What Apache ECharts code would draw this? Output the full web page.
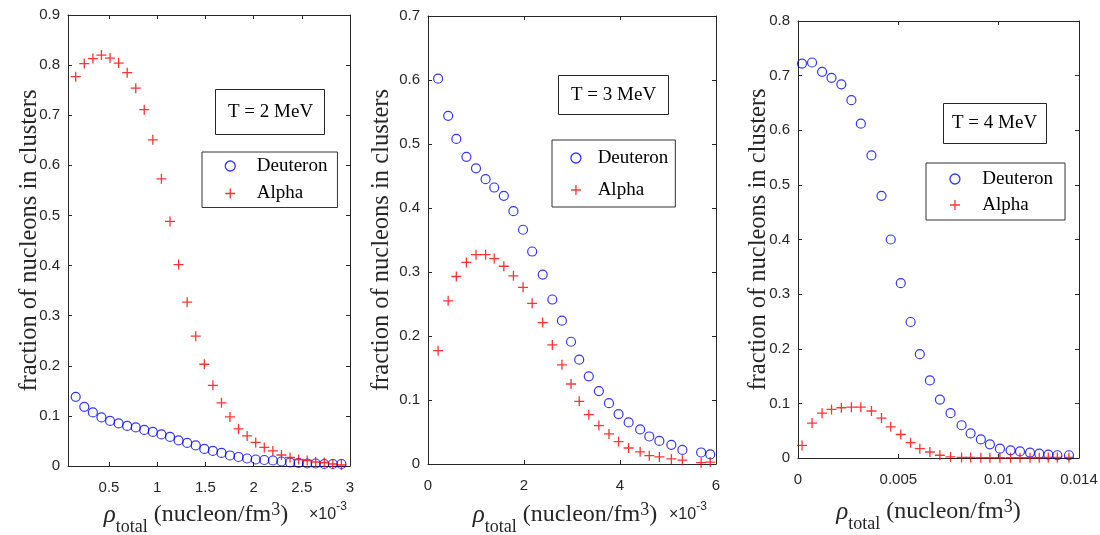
<!DOCTYPE html>
<html>
<head>
<meta charset="utf-8">
<script src="https://cdn.jsdelivr.net/npm/echarts@6/dist/echarts.min.js"></script>
<style>
  html, body { margin: 0; padding: 0; background: #fff; }
  #chart { width: 1100px; height: 535px; }
</style>
</head>
<body>
<div id="chart"></div>
<script>
// T = 2 MeV (x in units of 1e-3 nucleon/fm^3)
const rhoT2 = [0.155, 0.244, 0.333, 0.422, 0.511, 0.600, 0.689, 0.778, 0.866, 0.955, 1.044, 1.133, 1.222, 1.311, 1.400, 1.489,
  1.578, 1.667, 1.755, 1.844, 1.933, 2.022, 2.111, 2.200, 2.289, 2.378, 2.467, 2.556, 2.644, 2.733, 2.822, 2.911]
const deuteronT2 = [0.138, 0.118, 0.107, 0.097, 0.090, 0.085, 0.080, 0.077, 0.072, 0.068, 0.063, 0.058, 0.051, 0.046, 0.041, 0.034,
  0.030, 0.026, 0.021, 0.018, 0.015, 0.013, 0.012, 0.011, 0.009, 0.007, 0.006, 0.005, 0.005, 0.004, 0.004, 0.004]
const alphaT2 = [0.777, 0.803, 0.813, 0.820, 0.814, 0.804, 0.785, 0.754, 0.711, 0.651, 0.573, 0.488, 0.402, 0.327, 0.259, 0.203,
  0.161, 0.126, 0.098, 0.074, 0.060, 0.047, 0.037, 0.030, 0.022, 0.017, 0.013, 0.011, 0.008, 0.007, 0.004, 0.002]
const xTicksT2 = [0.5, 1, 1.5, 2, 2.5, 3]

// T = 3 MeV (x in units of 1e-3 nucleon/fm^3)
const rhoT3 = [0.21, 0.42, 0.59, 0.80, 1.00, 1.20, 1.38, 1.58, 1.78, 1.98, 2.17, 2.39, 2.59, 2.79,
  2.98, 3.15, 3.35, 3.56, 3.77, 3.97, 4.18, 4.42, 4.61, 4.82, 5.07, 5.30, 5.69, 5.88]
const deuteronT3 = [0.602, 0.544, 0.508, 0.480, 0.462, 0.445, 0.432, 0.419, 0.395, 0.366, 0.332, 0.296, 0.257, 0.224,
  0.191, 0.163, 0.137, 0.114, 0.095, 0.078, 0.065, 0.054, 0.043, 0.036, 0.030, 0.022, 0.018, 0.015]
const alphaT3 = [0.177, 0.255, 0.293, 0.315, 0.327, 0.327, 0.321, 0.309, 0.294, 0.276, 0.251, 0.221, 0.186, 0.155,
  0.125, 0.098, 0.077, 0.060, 0.047, 0.035, 0.025, 0.019, 0.013, 0.011, 0.008, 0.006, 0.002, 0.003]
const xTicksT3 = [0, 2, 4, 6]

// T = 4 MeV (x in nucleon/fm^3)
const rhoT4 = [0.0002, 0.0007, 0.0012, 0.00167, 0.00216, 0.00266, 0.00313, 0.00366, 0.00416, 0.00462, 0.00512, 0.00561, 0.00607, 0.00657,
  0.00707, 0.0076, 0.00815, 0.0086, 0.00911, 0.00956, 0.01006, 0.01059, 0.01106, 0.01156, 0.01202, 0.01247, 0.01292, 0.0135]
const deuteronT4 = [0.722, 0.724, 0.707, 0.696, 0.684, 0.655, 0.612, 0.554, 0.480, 0.400, 0.320, 0.249, 0.190, 0.142,
  0.107, 0.082, 0.060, 0.045, 0.034, 0.025, 0.017, 0.014, 0.012, 0.010, 0.008, 0.006, 0.005, 0.005]
const alphaT4 = [0.023, 0.064, 0.082, 0.089, 0.092, 0.093, 0.093, 0.086, 0.073, 0.057, 0.043, 0.028, 0.017, 0.011,
  0.005, 0.002, 0.001, 0.001, 0.0005, 0.0005, 0.0005, 0.0005, 0.0005, 0.0005, 0.0005, 0.001, 0.001, 0.001]
const xTicksT4 = [0, 0.005, 0.01, 0.014]

const seriesNames = ['Deuteron', 'Alpha']
const yAxisName = 'fraction of nucleons in clusters'

const INK = '#262626'
const SERIF = 'Liberation Serif'
const SANS = 'Liberation Sans'
const PLUS = 'path://M5,0V10M0,5H10'

const panels = [
  {
    temp: 'T = 2 MeV', rho: rhoT2, deut: deuteronT2, alpha: alphaT2, xTicks: xTicksT2,
    xMin: 0.075, xMax: 3, yMax: 0.9, expLeft: 309,
    grid: { left: 68, top: 15, width: 282, height: 451 },
    yNameGap: 26, xNameGap: 35, xNamePad: 26,
    title: { left: 215, top: 89, padding: [13, 12, 13, 13] },
    legend: { left: 202, top: 152, itemWidth: 43, padding: [4, 10, 4, 22.6], itemGap: 7.5 }
  },
  {
    temp: 'T = 3 MeV', rho: rhoT3, deut: deuteronT3, alpha: alphaT3, xTicks: xTicksT3,
    xMin: 0, xMax: 6, yMax: 0.7, expLeft: 669,
    grid: { left: 428, top: 16, width: 288, height: 448 },
    yNameGap: 34, xNameGap: 37, xNamePad: 14,
    title: { left: 558, top: 75, padding: [10, 13, 10, 13] },
    legend: { left: 552, top: 140, itemWidth: 33.4, padding: [8, 7, 7, 18.3], itemGap: 12 }
  },
  {
    temp: 'T = 4 MeV', rho: rhoT4, deut: deuteronT4, alpha: alphaT4, xTicks: xTicksT4,
    xMin: 0, xMax: 0.014, yMax: 0.8, expLeft: null,
    grid: { left: 798, top: 21, width: 281, height: 437 },
    yNameGap: 27, xNameGap: 40, xNamePad: 20,
    title: { left: 943, top: 103, padding: [10, 10, 11, 9] },
    legend: { left: 926, top: 163, itemWidth: 44.8, padding: [6, 12, 5, 23.3], itemGap: 6 }
  }
]

const tickLine = { show: true, inside: true, length: 4, lineStyle: { color: INK, width: 1 } }
const axisLine = { show: true, onZero: false, lineStyle: { color: INK, width: 1 } }

const xFormat = (v) => String(+(+v).toFixed(3))
const yFormat = (v) => (v === 0 ? '0' : (+v).toFixed(1))

// rho_total (nucleon/fm^3) with sub- and superscript
const xName = '{rho|ρ}{sub|total}{main| (nucleon/fm}{sup|3}{main|)}'
const xNameRich = {
  rho: { fontFamily: SERIF, fontStyle: 'italic', fontSize: 25, lineHeight: 24, verticalAlign: 'top', padding: [2, 0, 0, 0], color: INK },
  main: { fontFamily: SERIF, fontSize: 24, lineHeight: 24, verticalAlign: 'top', padding: [2, 0, 0, 0], color: INK },
  sub: { fontFamily: SERIF, fontSize: 18, lineHeight: 18, verticalAlign: 'top', padding: [17, 0, 0, 0], color: INK },
  sup: { fontFamily: SERIF, fontSize: 18, lineHeight: 18, verticalAlign: 'top', color: INK }
}

const grid = []
const xAxis = []
const yAxis = []
const series = []
const title = []
const legend = []

panels.forEach((p, i) => {
  grid.push({ ...p.grid, containLabel: false, outerBoundsMode: 'none' })

  // bottom axis with labels, top axis only for the box and ticks
  xAxis.push({
    type: 'value', gridIndex: i, position: 'bottom', min: p.xMin, max: p.xMax,
    axisLine, axisTick: { ...tickLine, customValues: p.xTicks },
    splitLine: { show: false },
    axisLabel: {
      customValues: p.xTicks, formatter: xFormat, margin: 14,
      fontFamily: SANS, fontSize: 15, color: INK
    },
    name: xName, nameLocation: 'middle', nameGap: p.xNameGap, nameMoveOverlap: false,
    nameTextStyle: { padding: [0, p.xNamePad, 0, 0], rich: xNameRich }
  })
  xAxis.push({
    type: 'value', gridIndex: i, position: 'top', min: p.xMin, max: p.xMax,
    axisLine, axisTick: { ...tickLine, customValues: p.xTicks },
    splitLine: { show: false }, axisLabel: { show: false }
  })

  yAxis.push({
    type: 'value', gridIndex: i, position: 'left', min: 0, max: p.yMax, interval: 0.1,
    axisLine, axisTick: tickLine, splitLine: { show: false },
    axisLabel: { formatter: yFormat, margin: 8, fontFamily: SANS, fontSize: 15, color: INK },
    name: yAxisName, nameLocation: 'middle', nameGap: p.yNameGap, nameMoveOverlap: false,
    nameTextStyle: { fontFamily: SERIF, fontSize: 24.5, color: INK }
  })
  yAxis.push({
    type: 'value', gridIndex: i, position: 'right', min: 0, max: p.yMax, interval: 0.1,
    axisLine, axisTick: tickLine, splitLine: { show: false }, axisLabel: { show: false }
  })

  series.push({
    name: seriesNames[0], type: 'scatter', xAxisIndex: i * 2, yAxisIndex: i * 2,
    data: p.rho.map((x, k) => [x, p.deut[k]]),
    symbol: 'circle', symbolSize: 9,
    itemStyle: { color: 'rgba(0,0,0,0)', borderColor: '#0000ff', borderWidth: 1.2 },
    emphasis: { disabled: true }, silent: true
  })
  series.push({
    name: seriesNames[1], type: 'scatter', xAxisIndex: i * 2, yAxisIndex: i * 2,
    data: p.rho.map((x, k) => [x, p.alpha[k]]),
    symbol: PLUS, symbolSize: 10,
    itemStyle: { color: 'rgba(0,0,0,0)', borderColor: '#ff0000', borderWidth: 1.3 },
    emphasis: { disabled: true }, silent: true
  })

  // temperature box
  title.push({
    text: p.temp, ...p.title,
    borderColor: INK, borderWidth: 1,
    textStyle: { fontFamily: SERIF, fontSize: 19, fontWeight: 'normal', color: '#000', lineHeight: 20 }
  })

  // x10^-3 exponent of the axis
  if (p.expLeft !== null) {
    title.push({
      text: '{a|×10}{b|-3}',
      left: p.expLeft, top: 501, padding: 0,
      textStyle: {
        fontWeight: 'normal',
        rich: {
          a: { fontFamily: SANS, fontSize: 16, fontWeight: 'normal', lineHeight: 22, verticalAlign: 'bottom', color: INK },
          b: { fontFamily: SANS, fontSize: 12, fontWeight: 'normal', lineHeight: 12, verticalAlign: 'top', color: INK }
        }
      }
    })
  }

  legend.push({
    data: seriesNames, orient: 'vertical', selectedMode: false,
    left: p.legend.left, top: p.legend.top, padding: p.legend.padding, itemGap: p.legend.itemGap,
    itemWidth: p.legend.itemWidth, itemHeight: 10,
    itemStyle: { borderWidth: 1.3 },
    borderColor: '#333', borderWidth: 1,
    textStyle: { fontFamily: SERIF, fontSize: 19, color: '#000', lineHeight: 20 }
  })
})

const chart = echarts.init(document.getElementById('chart'), null, { renderer: 'canvas' })
chart.setOption({
  backgroundColor: '#fff',
  animation: false,
  grid, xAxis, yAxis, series, title, legend
})
</script>
</body>
</html>
